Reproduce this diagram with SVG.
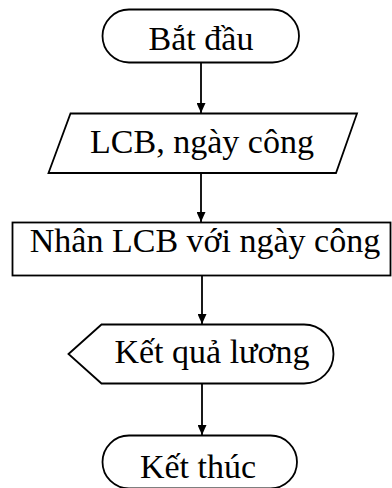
<svg xmlns="http://www.w3.org/2000/svg" width="392" height="488" viewBox="0 0 392 488">
  <defs>
    <marker id="arrow" viewBox="0 0 10 9" refX="10" refY="4.5" markerWidth="10" markerHeight="9" markerUnits="userSpaceOnUse" orient="auto">
      <path d="M0,0 L10,4.5 L0,9 Z" fill="#000"/>
    </marker>
    <style>
      .shape { fill: #fff; stroke: #000; stroke-width: 1.8; }
      .label { font-family: "Liberation Serif", "Times New Roman", serif; font-size: 34px; fill: #000; text-anchor: middle; }
      .flow { stroke: #000; stroke-width: 1.8; fill: none; marker-end: url(#arrow); }
    </style>
  </defs>

  <rect width="392" height="488" fill="#fff"/>

  <!-- flow lines -->
  <g id="connectors">
    <line class="flow" x1="201" y1="63" x2="201" y2="113"/>
    <line class="flow" x1="201" y1="173" x2="201" y2="222"/>
    <line class="flow" x1="202" y1="276" x2="202" y2="324"/>
    <line class="flow" x1="202" y1="384" x2="202" y2="435"/>
  </g>

  <!-- start terminal -->
  <g id="start">
    <rect class="shape" x="102.5" y="9.5" width="196.5" height="53" rx="26.5" ry="26.5"/>
    <text class="label" x="201" y="50">Bắt đầu</text>
  </g>

  <!-- input -->
  <g id="input">
    <polygon class="shape" points="70.5,113.5 357,113.5 336,173 48.5,173"/>
    <text class="label" x="202" y="153">LCB, ngày công</text>
  </g>

  <!-- process -->
  <g id="process">
    <rect class="shape" x="12.5" y="222.5" width="378" height="53"/>
    <text class="label" x="205" y="252">Nhân LCB với ngày công</text>
  </g>

  <!-- display -->
  <g id="output">
    <path class="shape" d="M68.5,354 L101.5,324.5 L304,324.5 A29.5,29.5 0 0 1 304,383.5 L101.5,383.5 Z"/>
    <text class="label" x="212" y="363">Kết quả lương</text>
  </g>

  <!-- end terminal -->
  <g id="end">
    <rect class="shape" x="102.5" y="435.5" width="194.5" height="53" rx="26.5" ry="26.5"/>
    <text class="label" x="198" y="478">Kết thúc</text>
  </g>
</svg>
